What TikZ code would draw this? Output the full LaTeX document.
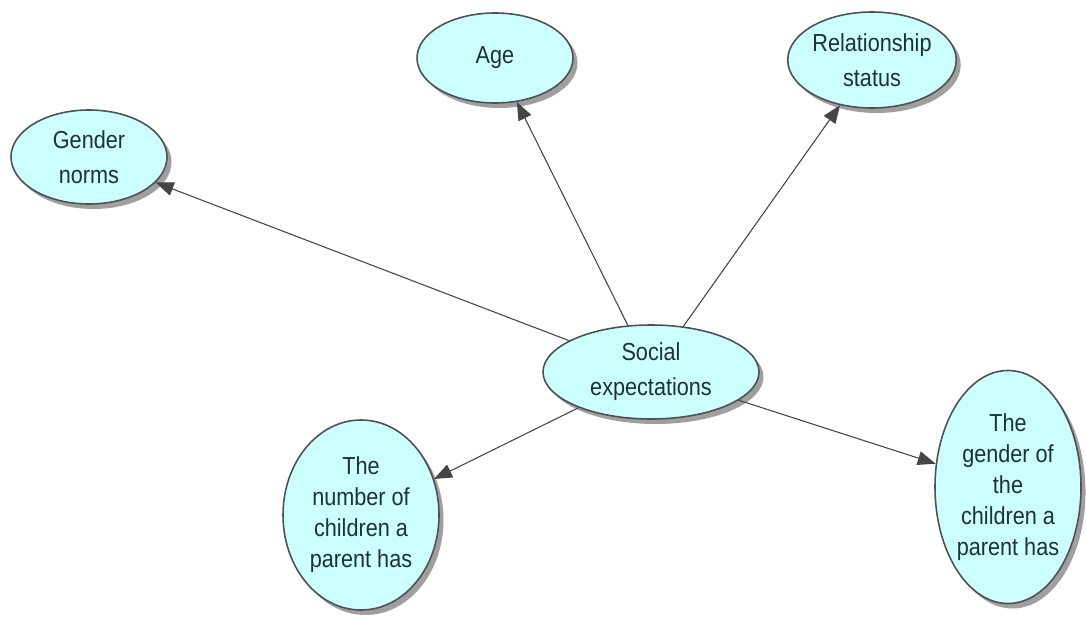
\documentclass[tikz,border=0pt]{standalone}
\usepackage{fontspec}
\setmainfont{Liberation Sans}[FakeStretch=0.88]
\usepackage{xcolor}
\usetikzlibrary{arrows.meta,shapes.geometric,shadows}
\definecolor{bubblefill}{RGB}{204,255,255}
\definecolor{bubbleline}{RGB}{80,80,80}
\definecolor{bubbletext}{RGB}{30,50,50}
\definecolor{arrowgray}{RGB}{70,70,70}

\begin{document}
\begin{tikzpicture}[
 bubble/.style={ellipse,draw=bubbleline,fill=bubblefill,line width=0.9pt,inner sep=0pt,
   align=center,text=bubbletext,font=\fontsize{14}{17.6}\selectfont,
   drop shadow={shadow xshift=0.09cm,shadow yshift=-0.1cm,fill=gray!75,opacity=1}},
 twoline/.style={font=\fontsize{14}{20}\selectfont},
 arr/.style={-{Triangle[length=3.6mm,width=2.8mm]},draw=arrowgray,fill=arrowgray,line width=0.6pt}
]
\useasboundingbox (0,0) rectangle (21.72,12.38);
\node[bubble,twoline,minimum width=4.32cm,minimum height=1.88cm] (soc) at (13.02,4.94) {Social\\expectations};
\node[bubble,twoline,minimum width=3.12cm,minimum height=1.88cm] (gen) at (1.78,9.24) {Gender\\norms};
\node[bubble,minimum width=3.12cm,minimum height=1.80cm] (age) at (9.90,11.22) {Age};
\node[bubble,twoline,minimum width=3.12cm,minimum height=1.92cm] (rel) at (17.44,11.18) {Relationship\\status};
\node[bubble,minimum width=3.12cm,minimum height=3.80cm] (num) at (7.22,2.08) {The\\number of\\children a\\parent has};
\node[bubble,minimum width=2.92cm,minimum height=4.66cm] (kid) at (20.16,2.64) {The\\gender of\\the\\children a\\parent has};
\foreach \t in {gen,age,rel,num,kid}{
  \draw[arr] (soc) -- (\t);
}
\end{tikzpicture}
\end{document}
